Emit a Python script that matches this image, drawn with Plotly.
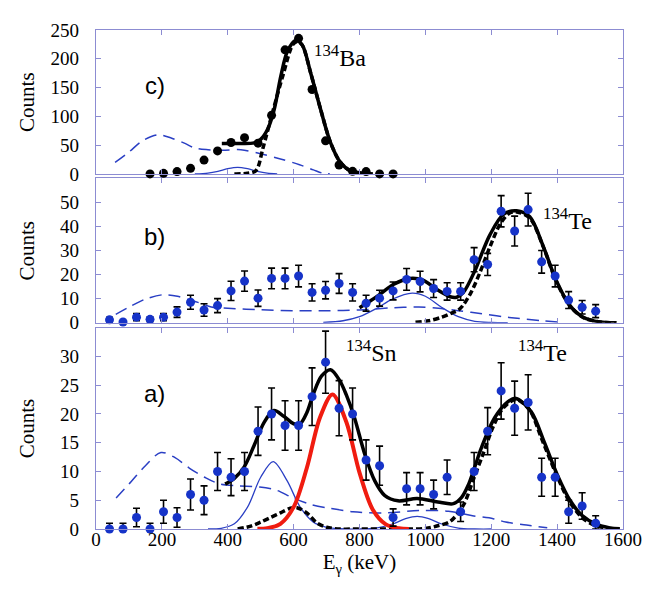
import plotly.graph_objects as go

# ---------------- data ----------------
# bin centres (keV)
E_bins = [41, 82, 123, 164, 205, 246, 287, 328, 369, 410, 451, 492, 533, 574, 615, 656,
          697, 738, 779, 820, 861, 902, 943, 984, 1025, 1066, 1107, 1148, 1189, 1230,
          1271, 1312, 1353, 1394, 1435, 1476, 1517]

# panel a) data
a_counts = [0, 0, 2, 0, 3, 2, 6, 5, 10, 9, 10, 17, 20, 18, 18, 23, 29, 21, 20, 12, 11,
            2, 7, 7, 6, 9, 3, 10, 17, 24, 21, 22, 9, 9, 3, 4, 1]
a_err = [1, 1, 1.6, 1, 2, 1.7, 2.7, 2.5, 3.3, 3.2, 3.3, 4.2, 4.5, 4.3, 4.3, 5, 5.4, 4.8,
         4.5, 3.5, 3.4, 1.5, 2.8, 2.8, 2.5, 3, 1.7, 3.3, 4.1, 4.9, 4.7, 4.8, 3.3, 3.3, 2,
         2.3, 1.3]

# panel b) data
b_counts = [1.2, 0.3, 2.3, 1.4, 2.3, 4.4, 8.5, 5.3, 7.1, 13.2, 17.3, 10.2, 18.4, 18.4,
            19.4, 12.6, 13.5, 16.3, 12.6, 8.1, 10.2, 13.2, 18, 17.1, 14.2, 13, 13, 26.2,
            24.2, 46.3, 38.1, 47, 25.3, 19.4, 9.4, 6.4, 4.8]
b_err = [1, 0, 1.5, 1, 1.5, 2.2, 2.9, 2.6, 2.9, 4, 4.2, 3.4, 4.3, 4.3, 4.5, 3.6, 3.6, 4.1,
         3.6, 3.3, 3.3, 3.7, 4.5, 4.3, 3.7, 3.6, 3.6, 5, 4.6, 6.5, 6.2, 6.8, 4.7, 4.5, 3.5,
         2.8, 2.7]

# panel c) data
c_E = [164, 205, 246, 287, 328, 369, 410, 451, 492, 533, 574, 615, 656, 697, 738, 779,
       820, 861, 902]
c_counts = [0, 1, 4, 9.7, 24, 40, 54.5, 63, 53.4, 101.7, 215.5, 235.5, 146.6, 57.4, 15.5,
            4.5, 4, 0, 0]

# ---- fit curves ----
a_total_E = [392, 420, 450, 480, 510, 540, 570, 600, 620, 640, 660, 685, 712, 740, 760, 785,
             816, 846, 877, 917, 975, 1038, 1085, 1110, 1130, 1150, 1170, 1210, 1250, 1275,
             1321, 1361, 1400, 1440, 1475, 1520, 1560, 1590]
a_total_y = [7.8, 8.8, 10.8, 14.5, 18.5, 20.6, 19.6, 18.3, 18.3, 20.2, 23.5, 26.6, 27.7, 25.8,
             23.3, 19.3, 13.0, 8.4, 5.8, 4.9, 5.3, 4.7, 4.4, 5.5, 7.6, 10.8, 14.1, 19.3, 22.1,
             22.7, 20.4, 15.1, 9.5, 4.9, 2.4, 0.8, 0.2, 0.05]
a_red_E = [490, 520, 560, 600, 640, 680, 718, 760, 800, 840, 880, 920, 950]
a_red_y = [0.03, 0.14, 0.9, 3.8, 10.6, 19.4, 23.4, 18.6, 9.8, 3.4, 0.8, 0.12, 0]
a_blue_E = [340, 380, 420, 460, 500, 538, 580, 620, 660, 700, 740, 800, 850, 900, 940, 975,
            1010, 1050, 1100, 1150, 1200]
a_blue_y = [0, 0.12, 0.9, 3.8, 9.0, 11.7, 8.4, 3.8, 1.2, 0.3, 0.05, 0.01, 0.17, 0.87, 1.8,
            2.2, 1.8, 0.87, 0.17, 0.01, 0]
a_dash_E = [61, 100, 150, 197, 240, 283, 330, 377, 430, 497, 550, 594, 650, 709, 780, 880,
            980, 1070, 1143, 1206, 1244, 1307, 1370]
a_dash_y = [5.4, 7.8, 11.0, 13.3, 12.4, 10.6, 9.0, 7.8, 7.5, 7.3, 6.7, 5.5, 4.3, 3.6, 3.0,
            2.8, 3.2, 3.1, 2.3, 1.8, 1.2, 0.7, 0.2]
a_dot_E = [430, 470, 500, 530, 560, 590, 610, 640, 670, 700, 740, 800, 900, 1000, 1040, 1075,
           1115, 1145, 1175, 1206, 1236, 1275, 1315, 1355, 1396, 1436, 1477, 1517, 1560, 1590]
a_dot_y = [0, 0.5, 1.2, 2.0, 2.8, 3.6, 3.7, 2.8, 1.1, 0.3, 0, 0, 0, 0.1, 0.6, 1.3, 4.1, 8.5,
           13, 17.8, 21, 22.5, 20.8, 15.4, 9.7, 4.9, 1.9, 0.6, 0.1, 0]

b_total_E = [800, 830, 863, 904, 954, 994, 1034, 1075, 1095, 1115, 1150, 1166, 1196, 1237,
             1277, 1317, 1358, 1398, 1439, 1479, 1530, 1580]
b_total_y = [6.2, 8.8, 11.9, 16, 18.4, 17.6, 13.9, 10.8, 10.6, 12.5, 21.5, 26.9, 36.5, 45,
             46.5, 44, 31.7, 17.3, 7.1, 2.3, 0.3, 0]
b_blue_E = [690, 750, 800, 850, 900, 960, 1000, 1050, 1100, 1150, 1200, 1250]
b_blue_y = [0.1, 0.81, 2.5, 5.8, 9.8, 12.3, 11, 6.3, 2.5, 0.6, 0.1, 0]
b_dash_E = [60, 100, 150, 202, 247, 283, 320, 350, 400, 500, 600, 700, 800, 900, 980, 1040,
            1100, 1166, 1254, 1358, 1410]
b_dash_y = [3.5, 6.5, 9.8, 11.6, 11, 9.5, 8, 6.5, 6.0, 5.4, 5.0, 5.0, 5.3, 6.2, 6.5, 6.0,
            5.0, 3.8, 2.2, 0.8, 0.2]
b_dot_E = [970, 1010, 1050, 1080, 1105, 1136, 1166, 1196, 1227, 1255, 1278, 1317, 1358, 1398,
           1439, 1479, 1530, 1580]
b_dot_y = [0.2, 0.8, 2.3, 4.0, 5.8, 11.9, 21, 31.5, 41, 45.5, 46, 43.5, 31.5, 17, 7, 2.2,
           0.3, 0]

c_total_E = [382, 430, 480, 500, 521, 541, 561, 581, 606, 626, 652, 682, 712, 742, 773, 813,
             840]
c_total_y = [52.8, 53, 54, 60, 77.6, 112, 169.5, 212.6, 231.6, 224, 175, 112, 54.5, 20, 5.2,
             1, 0]
c_dot_E = [420, 460, 486, 507, 537, 568, 598, 612, 626, 652, 682, 712, 742, 773, 813, 840]
c_dot_y = [0, 1, 6, 45, 109, 172, 225, 230, 224, 175, 112, 54.5, 20, 5, 1, 0]
c_dash_E = [58, 100, 140, 187, 230, 270, 300, 340, 384, 440, 500, 560, 618, 660, 690, 710]
c_dash_y = [20, 38, 57, 68, 62, 53, 45, 42, 41, 42, 35, 26, 16, 7, 1, 0]
c_blue_E = [300, 340, 370, 400, 430, 460, 490, 520, 550]
c_blue_y = [0, 1.5, 4.5, 9, 11.4, 9, 4.5, 1.5, 0.2]

x_ticks = [0, 200, 400, 600, 800, 1000, 1200, 1400, 1600]
a_yticks = [0, 5, 10, 15, 20, 25, 30]
b_yticks = [0, 10, 20, 30, 40, 50]
c_yticks = [0, 50, 100, 150, 200, 250]

# ---------------- styles ----------------
FRAME = "#8c8cd2"
BLUE_PT = "#1633c8"
BLUE_LN = "#2a3fc4"
SERIF = "Liberation Serif"
SANS = "Liberation Sans"

fig = go.Figure()


def curve(x, y, xa, ya, color, width, dash="solid"):
    fig.add_trace(go.Scatter(x=x, y=y, xaxis=xa, yaxis=ya, mode="lines",
                             line=dict(color=color, width=width, dash=dash, shape="spline",
                                       smoothing=0.9),
                             hoverinfo="skip", showlegend=False, cliponaxis=True))


def points(x, y, err, xa, ya):
    minus = [min(e, v) for e, v in zip(err, y)]
    fig.add_trace(go.Scatter(x=x, y=y, xaxis=xa, yaxis=ya, mode="markers",
                             marker=dict(color=BLUE_PT, size=9),
                             error_y=dict(type="data", array=err, arrayminus=minus,
                                          color="black", thickness=1.6, width=3.5),
                             showlegend=False, cliponaxis=False))


# panel a (bottom)
curve(a_dash_E, a_dash_y, "x", "y", BLUE_LN, 1.5, "12px,7px")
curve(a_blue_E, a_blue_y, "x", "y", BLUE_LN, 1.3)
curve(a_dot_E, a_dot_y, "x", "y", "black", 3.5, "6px,3px")
curve(a_red_E, a_red_y, "x", "y", "#f01c10", 4)
curve(a_total_E, a_total_y, "x", "y", "black", 3.5)
points(E_bins, a_counts, a_err, "x", "y")

# panel b (middle)
curve(b_dash_E, b_dash_y, "x2", "y2", BLUE_LN, 1.5, "12px,7px")
curve(b_blue_E, b_blue_y, "x2", "y2", BLUE_LN, 1.3)
curve(b_dot_E, b_dot_y, "x2", "y2", "black", 3.5, "6px,3px")
curve(b_total_E, b_total_y, "x2", "y2", "black", 3.5)
points(E_bins, b_counts, b_err, "x2", "y2")

# panel c (top)
curve(c_dash_E, c_dash_y, "x3", "y3", BLUE_LN, 1.5, "12px,7px")
curve(c_blue_E, c_blue_y, "x3", "y3", BLUE_LN, 1.3)
curve(c_dot_E, c_dot_y, "x3", "y3", "black", 3.5, "6px,3px")
curve(c_total_E, c_total_y, "x3", "y3", "black", 3.5)
fig.add_trace(go.Scatter(x=c_E, y=c_counts, xaxis="x3", yaxis="y3", mode="markers",
                         marker=dict(color="black", size=9), showlegend=False,
                         cliponaxis=False))

axis_common = dict(showline=True, linecolor=FRAME, linewidth=1.2, mirror="allticks",
                   ticks="inside", ticklen=5, tickcolor=FRAME, tickwidth=1,
                   showgrid=False, zeroline=False,
                   tickfont=dict(family=SERIF, size=19, color="black"))

# the page body adds an 8 px offset, so the figure is sized/margined to compensate
fig.update_layout(
    width=656, height=581,
    margin=dict(l=88, r=41, t=13, b=60),
    paper_bgcolor="white", plot_bgcolor="white",
    xaxis=dict(domain=[0, 1], anchor="y", range=[0, 1600], tickvals=x_ticks,
               ticklabelstandoff=-7,
               title=dict(text="E<sub>γ</sub> (keV)", font=dict(family=SERIF, size=21,
                                                                color="black"),
                          standoff=5),
               **axis_common),
    xaxis2=dict(domain=[0, 1], anchor="y2", range=[0, 1600], tickvals=x_ticks,
                showticklabels=False, matches="x", **axis_common),
    xaxis3=dict(domain=[0, 1], anchor="y3", range=[0, 1600], tickvals=x_ticks,
                showticklabels=False, matches="x", **axis_common),
    yaxis=dict(domain=[0, 0.4035], anchor="x", range=[0, 35], tickvals=a_yticks,
               ticklabelstandoff=12, **axis_common),
    yaxis2=dict(domain=[0.4134, 0.7028], anchor="x2", range=[0, 60], tickvals=b_yticks,
                ticklabelstandoff=12, **axis_common),
    yaxis3=dict(domain=[0.7116, 1.0], anchor="x3", range=[0, 250], tickvals=c_yticks,
                ticklabelstandoff=12, **axis_common),
)

# y titles
for ymid in [(0 + 0.4035) / 2, (0.4134 + 0.7028) / 2, (0.7116 + 1.0) / 2]:
    fig.add_annotation(text="Counts", xref="paper", yref="paper", x=0, y=ymid,
                       xanchor="center", yanchor="middle", xshift=-69, textangle=-90,
                       showarrow=False, font=dict(family=SERIF, size=21, color="black"))

# panel letters
for txt, xr, yr, yv in [("a)", "x", "y", 23.5), ("b)", "x2", "y2", 35.7),
                        ("c)", "x3", "y3", 154)]:
    fig.add_annotation(text=txt, xref=xr, yref=yr, x=178, y=yv, xanchor="center",
                       yanchor="middle", showarrow=False,
                       font=dict(family=SANS, size=24, color="black"))

# nuclide labels
for txt, xr, yr, xv, yv in [("<sup>134</sup>Ba", "x3", "y3", 655, 205),
                            ("<sup>134</sup>Te", "x2", "y2", 1350, 43.0),
                            ("<sup>134</sup>Sn", "x", "y", 753, 30.9),
                            ("<sup>134</sup>Te", "x", "y", 1274, 30.9)]:
    fig.add_annotation(text=txt, xref=xr, yref=yr, x=xv, y=yv, xanchor="left",
                       yanchor="middle", showarrow=False,
                       font=dict(family=SERIF, size=24, color="black"))

fig.write_html("out.html")
